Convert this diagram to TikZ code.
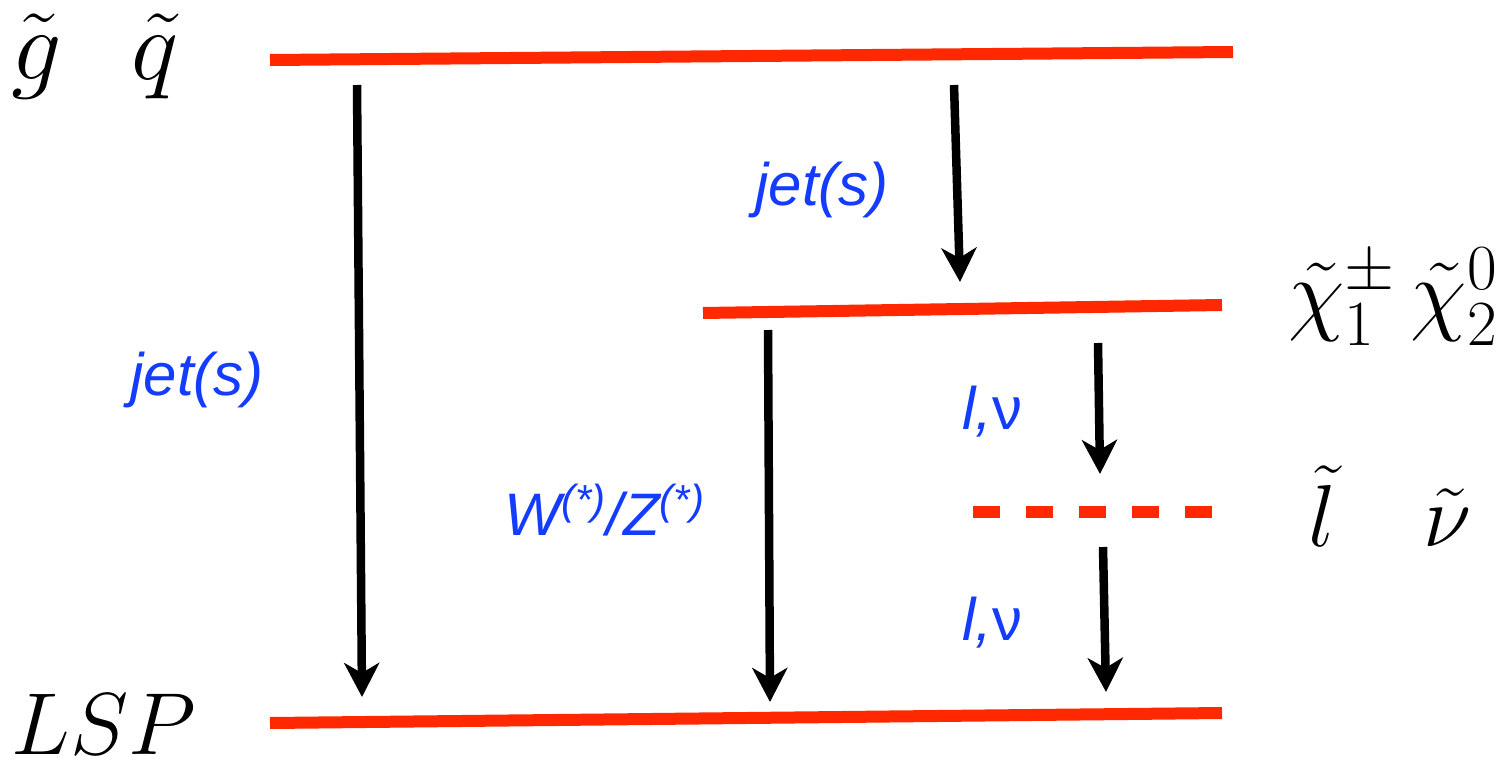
\RequirePackage{fix-cm}
\documentclass[tikz,border=0pt]{standalone}
\usepackage{fontspec}
\setsansfont{Liberation Sans}
\usetikzlibrary{arrows.meta}
\definecolor{levelred}{RGB}{255,40,0}
\definecolor{prodblue}{RGB}{20,60,255}
\tikzset{
	level/.style={levelred,line width=6pt},
	decay/.style={line width=4.25pt,-{Stealth[length=17pt,width=17.5pt,inset=5pt]}},
	prod/.style={text=prodblue,font=\fontsize{30}{36}\selectfont\sffamily\itshape},
	spart/.style={inner sep=0pt,font=\fontsize{44}{52}\selectfont}
}
\begin{document}
\begin{tikzpicture}[x=0.5pt,y=-0.5pt]
\useasboundingbox (0,0) rectangle (1503,765);
% mass levels
\draw[level] (270,60)--(1233,52);
\draw[level] (703,313)--(1222,305);
\draw[level,dash pattern=on 13.5pt off 13pt] (973,512)--(1214,512);
\draw[level] (270,723)--(1222,713);
% particles
\node[spart,font=\fontsize{50}{58}\selectfont] (gq) at (95,56) {$\tilde g\hspace{0.7em}\tilde q$};
\node[spart,font=\fontsize{46}{54}\selectfont] (chi) at (1393,297) {$\tilde\chi^{\pm}_1\,\tilde\chi^0_2$};
\node[spart] (slep) at (1390,506) {$\tilde l\quad\tilde\nu$};
\node[spart] (lsp) at (104,724) {$LSP$};
% decays
\coordinate (gq-a) at (357,85);  \coordinate (lsp-a) at (362,697);
\coordinate (gq-b) at (954,85);  \coordinate (chi-b) at (960,282);
\coordinate (chi-c) at (768,330); \coordinate (lsp-c) at (770,702);
\coordinate (chi-d) at (1098,343); \coordinate (slep-d) at (1100,474);
\coordinate (slep-e) at (1103,547); \coordinate (lsp-e) at (1106,692);
\draw[decay] (gq-a)--(lsp-a);
\draw[decay] (gq-b)--(chi-b);
\draw[decay] (chi-c)--(lsp-c);
\draw[decay] (chi-d)--(slep-d);
\draw[decay] (slep-e)--(lsp-e);
\node[prod] (jet1) at (822,190) {jet(s)};
\node[prod] (jet2) at (197,380) {jet(s)};
\node[prod] (wz) at (605,510) {W\textsuperscript{(*)}/Z\textsuperscript{(*)}};
\node[prod] (lnu1) at (992,412) {l,\upshape ν};
\node[prod] (lnu2) at (992,623) {l,\upshape ν};
\end{tikzpicture}
\end{document}
